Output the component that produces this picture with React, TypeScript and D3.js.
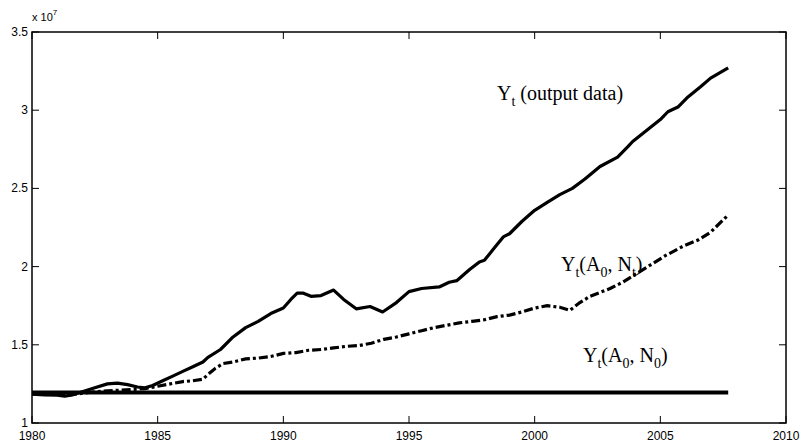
import React from "react";
import * as d3 from "d3";

const outputYears = [1980.0,1980.5,1981.0,1981.3,1981.6,1982.0,1982.5,1983.0,1983.4,1983.8,1984.2,1984.5,1984.8,1985.2,1985.6,1986.0,1986.4,1986.8,1987.0,1987.5,1988.0,1988.5,1989.0,1989.5,1990.0,1990.3,1990.55,1990.8,1991.1,1991.5,1992.0,1992.4,1992.9,1993.45,1993.95,1994.5,1995.0,1995.5,1996.2,1996.6,1996.9,1997.4,1997.8,1998.0,1998.4,1998.75,1999.0,1999.5,2000.0,2000.5,2001.0,2001.5,2002.0,2002.6,2003.3,2003.7,2003.9,2004.6,2005.0,2005.3,2005.7,2006.1,2006.6,2007.0,2007.7];
const outputValues = [1.185,1.18,1.178,1.172,1.18,1.2,1.225,1.25,1.255,1.245,1.23,1.225,1.24,1.27,1.3,1.33,1.36,1.39,1.42,1.47,1.55,1.61,1.65,1.7,1.735,1.79,1.83,1.83,1.81,1.815,1.85,1.79,1.73,1.745,1.71,1.77,1.84,1.86,1.87,1.9,1.91,1.98,2.03,2.04,2.12,2.19,2.21,2.29,2.36,2.41,2.46,2.5,2.56,2.64,2.7,2.765,2.8,2.89,2.94,2.99,3.02,3.085,3.15,3.205,3.27];

const laborYears = [1980.0,1980.5,1981.0,1981.5,1982.0,1982.5,1983.0,1983.5,1984.0,1984.5,1985.0,1985.5,1986.0,1986.4,1986.8,1987.0,1987.3,1987.6,1988.0,1988.5,1989.0,1989.5,1990.0,1990.5,1991.0,1991.5,1992.0,1992.5,1993.0,1993.5,1994.0,1994.5,1995.0,1995.5,1996.0,1996.5,1997.0,1997.5,1998.0,1998.5,1999.0,1999.5,2000.0,2000.5,2001.0,2001.4,2001.8,2002.2,2002.6,2003.0,2003.5,2004.0,2004.6,2005.2,2005.9,2006.5,2007.0,2007.7];
const laborValues = [1.185,1.19,1.185,1.18,1.19,1.2,1.205,1.21,1.215,1.22,1.235,1.25,1.265,1.27,1.28,1.31,1.35,1.38,1.39,1.41,1.415,1.425,1.445,1.45,1.465,1.47,1.48,1.49,1.495,1.51,1.535,1.55,1.57,1.59,1.61,1.625,1.64,1.65,1.66,1.68,1.69,1.71,1.735,1.75,1.74,1.72,1.77,1.81,1.835,1.86,1.9,1.95,2.01,2.07,2.13,2.17,2.22,2.33];

const constYears = [1980.0, 2007.7];
const constValues = [1.195, 1.195];

const xTicks = [1980, 1985, 1990, 1995, 2000, 2005, 2010];
const yTicks = [1, 1.5, 2, 2.5, 3, 3.5];

const W = 802, H = 442;
const L = 32, R = 786, T = 32, B = 423;

export default function App() {
  const x = d3.scaleLinear().domain([1980, 2010]).range([L, R]);
  const y = d3.scaleLinear().domain([1, 3.5]).range([B, T]);
  const line = d3.line<[number, number]>().x(d => x(d[0])).y(d => y(d[1]));
  const pts = (xs: number[], vs: number[]) => xs.map((v, i) => [v, vs[i]] as [number, number]);
  const tickLen = 7;
  const sans = "'Liberation Sans', Arial, Helvetica, sans-serif";
  const serif = "'Liberation Serif', 'Times New Roman', serif";
  const fs = 20, sub = 14, dy = 6;
  return (
    <div style={{ position: "absolute", left: 0, top: 0 }}>
      <svg width={W} height={H} style={{ display: "block", background: "#fff" }}>
        <rect x={0} y={0} width={W} height={H} fill="#fff" />
        <path d={line(pts(constYears, constValues)) || ""} fill="none" stroke="#000" strokeWidth={4} />
        <path d={line(pts(laborYears, laborValues)) || ""} fill="none" stroke="#000" strokeWidth={3.2} strokeDasharray="9 3 3 3" />
        <path d={line(pts(outputYears, outputValues)) || ""} fill="none" stroke="#000" strokeWidth={3.2} strokeLinejoin="round" />
        <rect x={L} y={T} width={R - L} height={B - T} fill="none" stroke="#000" strokeWidth={1.5} />
        {xTicks.map(t => (
          <g key={"x" + t}>
            <line x1={x(t)} x2={x(t)} y1={B} y2={B - tickLen} stroke="#000" strokeWidth={1} />
            <line x1={x(t)} x2={x(t)} y1={T} y2={T + tickLen} stroke="#000" strokeWidth={1} />
            <text x={x(t)} y={B + 17} textAnchor="middle" fontFamily={sans} fontSize={12}>{t}</text>
          </g>
        ))}
        {yTicks.map(t => (
          <g key={"y" + t}>
            <line x1={L} x2={L + tickLen} y1={y(t)} y2={y(t)} stroke="#000" strokeWidth={1} />
            <line x1={R} x2={R - tickLen} y1={y(t)} y2={y(t)} stroke="#000" strokeWidth={1} />
            <text x={L - 4} y={y(t) + 4} textAnchor="end" fontFamily={sans} fontSize={12}>{t}</text>
          </g>
        ))}
        <text x={L} y={T - 11} fontFamily={sans} fontSize={11}>
          x 10<tspan dy={-6} fontSize={8}>7</tspan>
        </text>
        <text x={497} y={100} fontFamily={serif} fontSize={fs}>
          Y<tspan dy={dy} fontSize={sub}>t</tspan><tspan dy={-dy}> (output data)</tspan>
        </text>
        <text x={561} y={271} fontFamily={serif} fontSize={fs}>
          Y<tspan dy={dy} fontSize={sub}>t</tspan><tspan dy={-dy}>(A</tspan><tspan dy={dy} fontSize={sub}>0</tspan><tspan dy={-dy}>, N</tspan><tspan dy={dy} fontSize={sub}>t</tspan><tspan dy={-dy}>)</tspan>
        </text>
        <text x={583} y={362} fontFamily={serif} fontSize={fs}>
          Y<tspan dy={dy} fontSize={sub}>t</tspan><tspan dy={-dy}>(A</tspan><tspan dy={dy} fontSize={sub}>0</tspan><tspan dy={-dy}>, N</tspan><tspan dy={dy} fontSize={sub}>0</tspan><tspan dy={-dy}>)</tspan>
        </text>
      </svg>
    </div>
  );
}
